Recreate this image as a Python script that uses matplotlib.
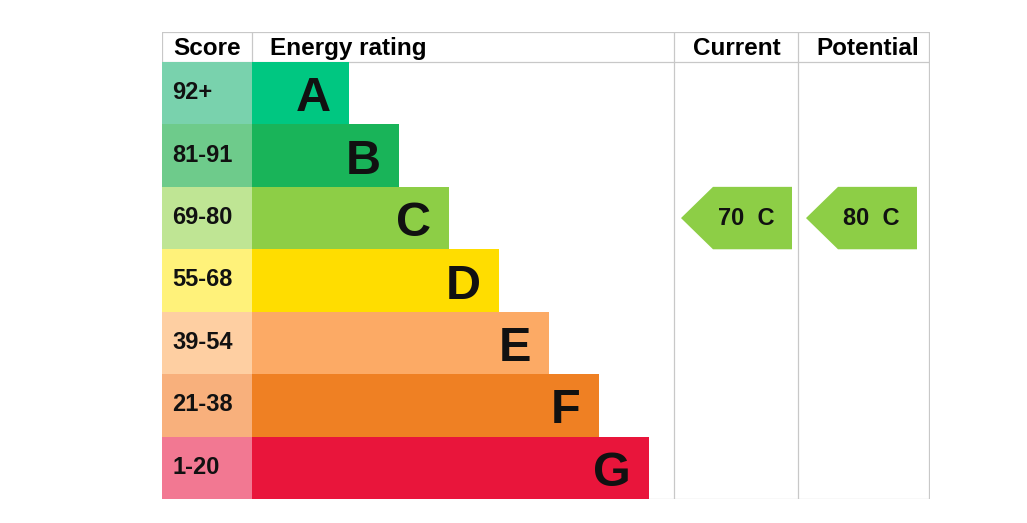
import matplotlib
matplotlib.use("Agg")
import matplotlib.pyplot as plt
from matplotlib.patches import Polygon

plt.rcParams['font.family'] = ['Liberation Sans', 'DejaVu Sans']

# ---- data ----
bands = ["A", "B", "C", "D", "E", "F", "G"]
score_labels = ["92+", "81-91", "69-80", "55-68", "39-54", "21-38", "1-20"]
band_min = [92, 81, 69, 55, 39, 21, 1]
bar_colors = ["#00c781", "#19b459", "#8dce46", "#ffdd00", "#fcaa65", "#ef8023", "#e9153b"]
score_colors = ["#79d2ad", "#6ecb8b", "#bfe594", "#fff27a", "#fecfa2", "#f8b07c", "#f27892"]
current_value = 70
potential_value = 80
headers = ["Score", "Energy rating", "Current", "Potential"]

W, H = 1027, 523
fig = plt.figure(figsize=(W / 100, H / 100), dpi=100)
ax = fig.add_axes([162 / W, 1 - 499 / H, 768 / W, 467 / H])
ax.set_xlim(0, 768)
header_h = 30 / 62.43
ax.set_ylim(7, -header_h)
ax.axis("off")

score_w = 90
rating_right = 512
current_right = 636
table_right = 768
grid_c = "#c8c8c8"

n = len(bands)
centers = [i + 0.5 for i in range(n)]

# score cells
ax.barh(centers, [score_w] * n, left=0, height=1.0, color=score_colors, linewidth=0)
# rating bars
widths = [97 + 50 * i for i in range(n)]
ax.barh(centers, widths, left=score_w, height=1.0, color=bar_colors, linewidth=0)

# grid lines
lw = 0.9
for y in (-header_h, 0, 7):
    ax.plot([0, table_right], [y, y], color=grid_c, lw=lw, zorder=0.5, solid_capstyle='butt')
for x in (0, score_w):
    ax.plot([x, x], [-header_h, 0], color=grid_c, lw=lw, zorder=0.5)
for x in (rating_right, current_right, table_right - 0.5):
    ax.plot([x, x], [-header_h, 7], color=grid_c, lw=lw, zorder=0.5)

# headers
hy = -header_h / 2 + 0.03
hfs = 17.5
ax.text(score_w / 2, hy, headers[0], ha="center", va="center", fontsize=hfs, fontweight="bold")
ax.text(score_w + 18, hy, headers[1], ha="left", va="center", fontsize=hfs, fontweight="bold")
ax.text((rating_right + current_right) / 2 + 1, hy, headers[2], ha="center", va="center", fontsize=hfs, fontweight="bold")
ax.text((current_right + table_right) / 2 + 4, hy, headers[3], ha="center", va="center", fontsize=hfs, fontweight="bold")

# labels
for i, c in enumerate(centers):
    ax.text(10, c - 0.01, score_labels[i], ha="left", va="center", fontsize=17, fontweight="bold", color="#111111")
    ax.text(score_w + widths[i] - 18, c + 0.09, bands[i], ha="right", va="center", fontsize=35,
            fontweight="bold", color="#111111")


def band_of(v):
    for i, m in enumerate(band_min):
        if v >= m:
            return i
    return n - 1


def arrow(x0, x1, value):
    i = band_of(value)
    c = centers[i]
    tip = 32
    pts = [(x0, c), (x0 + tip, c - 0.5), (x1, c - 0.5), (x1, c + 0.5), (x0 + tip, c + 0.5)]
    ax.add_patch(Polygon(pts, closed=True, facecolor=bar_colors[i], edgecolor="none", zorder=2))
    ax.text((x0 + tip + x1) / 2 - 6, c + 0.0, f"{value}  {bands[i]}", ha="center", va="center",
            fontsize=17, fontweight="bold", color="#111111", zorder=3)


arrow(rating_right + 7, current_right - 6, current_value)
arrow(current_right + 8, table_right - 13, potential_value)

fig.savefig("out.png", dpi=100, facecolor="white")
